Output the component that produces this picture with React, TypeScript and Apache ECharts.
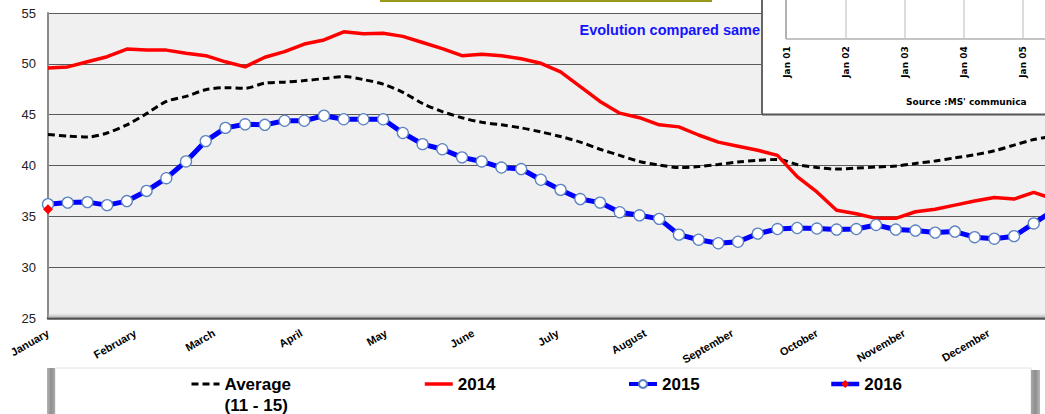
import React, { useEffect, useRef } from "react";
import * as echarts from "echarts";

const FONT = "'Liberation Sans', Arial, sans-serif";

const monthNames = [
  "January", "February", "March", "April", "May", "June",
  "July", "August", "September", "October", "November", "December",
];
const monthStartDays = [0, 31, 59, 90, 120, 151, 181, 212, 243, 273, 304, 334];
const yTicks = [25, 30, 35, 40, 45, 50, 55];

// weekly values (week 0 = first week of January)
const avgValues = [
  43.05, 42.9, 42.8, 43.2, 44.0, 45.1, 46.3, 46.8, 47.45, 47.65,
  47.6, 48.1, 48.2, 48.35, 48.55, 48.75, 48.45, 48.0, 47.2, 46.1,
  45.3, 44.7, 44.25, 44.0, 43.7, 43.3, 42.85, 42.3, 41.6, 41.0,
  40.4, 40.05, 39.8, 39.9, 40.1, 40.35, 40.5, 40.6, 40.1, 39.8,
  39.65, 39.75, 39.85, 39.95, 40.2, 40.45, 40.75, 41.05, 41.45, 42.0,
  42.55, 42.9,
];
const values2014 = [
  49.6, 49.7, 50.2, 50.7, 51.45, 51.35, 51.35, 51.05, 50.8, 50.2,
  49.7, 50.65, 51.2, 51.95, 52.35, 53.15, 52.95, 53.0, 52.7, 52.1,
  51.5, 50.8, 50.95, 50.8, 50.5, 50.05, 49.2, 47.75, 46.3, 45.15,
  44.7, 44.0, 43.8, 43.0, 42.3, 41.9, 41.5, 41.0, 38.9, 37.4,
  35.6, 35.25, 34.8, 34.8, 35.45, 35.7, 36.1, 36.5, 36.85, 36.7,
  37.35, 36.7,
];
const values2015 = [
  36.2, 36.35, 36.4, 36.1, 36.5, 37.5, 38.75, 40.4, 42.4, 43.7,
  44.05, 44.0, 44.4, 44.4, 44.9, 44.55, 44.55, 44.55, 43.2, 42.1,
  41.6, 40.8, 40.4, 39.8, 39.65, 38.6, 37.6, 36.7, 36.35, 35.4,
  35.1, 34.75, 33.2, 32.7, 32.35, 32.5, 33.3, 33.75, 33.85, 33.8,
  33.7, 33.75, 34.15, 33.7, 33.6, 33.4, 33.5, 32.95, 32.8, 33.05,
  34.3, 35.6,
];
const values2016 = [35.7];

const insetLabels = ["Jan 01", "Jan 02", "Jan 03", "Jan 04", "Jan 05"];
const insetGridX = [787, 846, 905, 964, 1023];

const toPoints = (arr: number[]) => arr.map((v, i) => [i, v]);

export default function App() {
  const ref = useRef<HTMLDivElement>(null);

  useEffect(() => {
    if (!ref.current) return;
    const chart = echarts.init(ref.current, undefined, { renderer: "svg" });
    const monthWeeks = monthStartDays.map((d) => d / 7);

    const legendText = {
      fontFamily: FONT,
      fontSize: 17,
      fontWeight: "bold" as const,
      color: "#000",
      lineHeight: 21,
    };
    const legendBase = {
      orient: "horizontal" as const,
      padding: 0,
      itemWidth: 28,
      itemHeight: 10,
      selectedMode: false,
      textStyle: legendText,
    };

    const graphics: any[] = [
      // title box remnant at top
      { type: "rect", shape: { x: 380, y: 0, width: 332, height: 2 }, style: { fill: "#9a9a1a" }, z: 50, silent: true },
      // blue subtitle text
      {
        type: "text", x: 760, y: 30, z: 60, silent: true,
        style: {
          text: "Evolution compared same", align: "right", verticalAlign: "middle",
          fill: "#1414ff", font: `bold 14.5px ${FONT}`,
        },
      },
      // inset box
      { type: "rect", shape: { x: 762, y: 0, width: 330, height: 114 }, style: { fill: "#fff" }, z: 100, silent: true },
      { type: "line", shape: { x1: 762, y1: 0, x2: 762, y2: 115 }, style: { stroke: "#666", lineWidth: 2 }, z: 101, silent: true },
      { type: "line", shape: { x1: 762, y1: 114.5, x2: 1080, y2: 114.5 }, style: { stroke: "#555", lineWidth: 2 }, z: 101, silent: true },
      { type: "line", shape: { x1: 786, y1: 0, x2: 786, y2: 39 }, style: { stroke: "#999", lineWidth: 1.5 }, z: 102, silent: true },
      { type: "line", shape: { x1: 786, y1: 39, x2: 1080, y2: 39 }, style: { stroke: "#b0b0b0", lineWidth: 1.5 }, z: 102, silent: true },
      ...insetGridX.slice(1).map((x) => ({
        type: "line", shape: { x1: x, y1: 0, x2: x, y2: 38 }, style: { stroke: "#dcdcdc", lineWidth: 2 }, z: 102, silent: true,
      })),
      ...insetLabels.map((t, i) => ({
        type: "text", x: insetGridX[i], y: 62, rotation: Math.PI / 2, z: 103, silent: true,
        style: { text: t, align: "center", verticalAlign: "middle", fill: "#000", font: `bold 9px 'DejaVu Sans', sans-serif` },
      })),
      {
        type: "text", x: 906, y: 102, z: 103, silent: true,
        style: { text: "Source :MS' communica", align: "left", verticalAlign: "middle", fill: "#000", font: `bold 9px 'DejaVu Sans', sans-serif` },
      },
      // legend box
      { type: "rect", shape: { x: 55, y: 368, width: 976, height: 50 }, style: { fill: "#fff", stroke: "#e2e2e2", lineWidth: 1 }, z: 1, silent: true },
      {
        type: "rect", shape: { x: 47, y: 368, width: 8, height: 50 }, z: 2, silent: true,
        style: { fill: new echarts.graphic.LinearGradient(0, 0, 1, 0, [{ offset: 0, color: "#b5b5b5" }, { offset: 0.5, color: "#8f8f8f" }, { offset: 1, color: "#a8a8a8" }]) },
      },
      {
        type: "rect", shape: { x: 1031, y: 370, width: 9, height: 50 }, z: 2, silent: true,
        style: { fill: new echarts.graphic.LinearGradient(0, 0, 1, 0, [{ offset: 0, color: "#a8a8a8" }, { offset: 0.5, color: "#8f8f8f" }, { offset: 1, color: "#b5b5b5" }]) },
      },
      // shadow above bottom axis
      {
        type: "rect", shape: { x: 48, y: 313, width: 1030, height: 5 }, z: 3, silent: true,
        style: { fill: new echarts.graphic.LinearGradient(0, 0, 0, 1, [{ offset: 0, color: "rgba(200,200,200,0)" }, { offset: 1, color: "rgba(150,150,150,0.8)" }]) },
      },
    ];

    chart.setOption({
      animation: false,
      backgroundColor: "#fff",
      grid: {
        left: 48, top: 13, bottom: 96, right: 0,
        show: true, backgroundColor: "#f0f0f0", borderWidth: 0,
      },
      xAxis: {
        type: "value",
        min: 0,
        max: 365 / 7,
        axisLine: { show: true, lineStyle: { color: "#505050", width: 2.5 } },
        axisTick: { show: false },
        splitLine: { show: false },
        axisLabel: {
          customValues: monthWeeks,
          rotate: 30,
          margin: 14,
          fontFamily: FONT,
          fontSize: 11,
          fontWeight: "bold",
          color: "#000",
          formatter: (v: number) => {
            let best = 0;
            monthWeeks.forEach((m, i) => { if (Math.abs(m - v) < Math.abs(monthWeeks[best] - v)) best = i; });
            return monthNames[best];
          },
        },
      },
      yAxis: {
        type: "value",
        min: yTicks[0],
        max: yTicks[yTicks.length - 1],
        interval: 5,
        axisLine: { show: true, lineStyle: { color: "#8a8a8a", width: 2 } },
        axisTick: { show: false },
        splitLine: { show: true, lineStyle: { color: "#5a5a5a", width: 1.2 } },
        axisLabel: { fontFamily: FONT, fontSize: 13, color: "#222", margin: 12 },
      },
      legend: [
        {
          ...legendBase, data: ["Average"], left: 190, top: 352.5,
          formatter: () => "\nAverage\n(11 - 15)",
          lineStyle: { width: 3 },
        },
        { ...legendBase, data: ["2014"], left: 423, top: 373.5, lineStyle: { width: 3.5 } },
        { ...legendBase, data: ["2015"], left: 627, top: 373.5, lineStyle: { width: 4 } },
        { ...legendBase, data: ["2016"], left: 829, top: 373.5, lineStyle: { width: 4.5 } },
      ],
      graphic: graphics,
      series: [
        {
          name: "Average", type: "line", data: toPoints(avgValues), symbol: "none", smooth: 0.3,
          lineStyle: { color: "#000", width: 3, type: [7, 4] }, itemStyle: { color: "rgba(0,0,0,0)" }, z: 2,
        },
        {
          name: "2014", type: "line", data: toPoints(values2014), symbol: "none",
          lineStyle: { color: "#ff0000", width: 3.5 }, itemStyle: { color: "rgba(255,0,0,0)" }, z: 3,
        },
        {
          name: "2015", type: "line", data: toPoints(values2015), symbol: "circle", symbolSize: 11,
          lineStyle: { color: "#0000ff", width: 5 },
          itemStyle: { color: "#ffffff", borderColor: "#5b82c0", borderWidth: 1.3 }, z: 4,
        },
        {
          name: "2016", type: "line", data: toPoints(values2016), symbol: "diamond", symbolSize: 10,
          lineStyle: { color: "#0000ff", width: 5 },
          itemStyle: { color: "#ff0000" }, z: 5,
        },
      ],
    });
    return () => chart.dispose();
  }, []);

  return (
    <div style={{ position: "fixed", left: 0, top: 0, width: 1045, height: 414, overflow: "hidden", background: "#fff" }}>
      <div ref={ref} style={{ position: "absolute", left: 0, top: 0, width: 1076, height: 414 }} />
    </div>
  );
}
